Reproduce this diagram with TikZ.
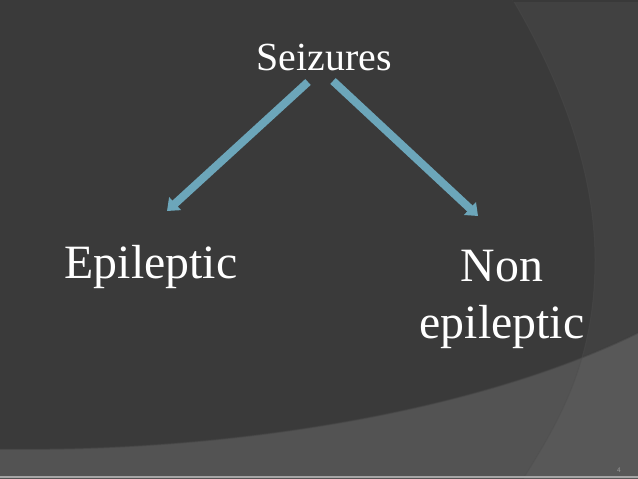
\documentclass[tikz,border=0pt]{standalone}
\usepackage{fontspec}
\setmainfont{Liberation Serif}
\usepackage{xcolor}
\usetikzlibrary{positioning,arrows.meta}
\definecolor{slideBg}{HTML}{3A3A3A}
\definecolor{slideArc}{HTML}{414141}
\definecolor{slideLow}{HTML}{535353}
\definecolor{slideLowArc}{HTML}{585858}
\definecolor{flowBlue}{RGB}{108,166,186}

\begin{document}
\begin{tikzpicture}[
  x=1bp, y=-1bp,
  lbl/.style={text=white, inner sep=0pt, anchor=base},
  bigLbl/.style={lbl, font=\fontsize{48}{57}\selectfont, align=center},
  flow/.style={draw=flowBlue, line width=8bp,
               -{Triangle[width=17bp,length=11bp]}}
]
  \useasboundingbox (0,0) rectangle (638,479);

  % Slide background
  \fill[slideBg] (0,0) rectangle (638,479);
  \fill[slideArc] (513,0) .. controls (560,80) and (595,170) .. (595,260)
    .. controls (595,360) and (560,420) .. (523,479) -- (638,479) -- (638,0) -- cycle;
  \begin{scope}
    \clip (0,449) .. controls (220,452) and (470,415) .. (638,333)
      -- (638,479) -- (0,479) -- cycle;
    \fill[slideLow] (0,0) rectangle (638,479);
    \fill[slideLowArc] (513,0) .. controls (560,80) and (595,170) .. (595,260)
      .. controls (595,360) and (560,420) .. (523,479) -- (638,479) -- (638,0) -- cycle;
  \end{scope}
  \draw[black!75, opacity=0.5, line width=1.5bp]
    (0,449) .. controls (220,452) and (470,415) .. (638,333);
  \draw[black!70, opacity=0.4, line width=1bp]
    (513,0) .. controls (560,80) and (595,170) .. (595,260)
    .. controls (595,360) and (560,420) .. (523,479);
  \draw[gray!70, line width=1.5bp] (0,477) -- (638,477);
  \draw[gray!45!black, line width=2bp] (513,1) -- (638,1);

  % Labels
  \node[lbl, font=\fontsize{40}{48}\selectfont] (seiz) at (324,71) {Seizures};
  \node[bigLbl] (epi) at (151,278) {Epileptic};
  \node[bigLbl, anchor=north] (nonEpi) at (502,250) {Non\\epileptic};
  \node[lbl, font=\sffamily\fontsize{7}{8}\selectfont, text=gray!80] (pageNo)
    at (619,472) {4};

  % Arrows
  \coordinate (lTail) at (308,82);
  \coordinate (lTip) at (167,211);
  \coordinate (rTail) at (333,81);
  \coordinate (rTip) at (478,216);
  \draw[flow] (lTail) -- (lTip);
  \draw[flow] (rTail) -- (rTip);
\end{tikzpicture}
\end{document}
